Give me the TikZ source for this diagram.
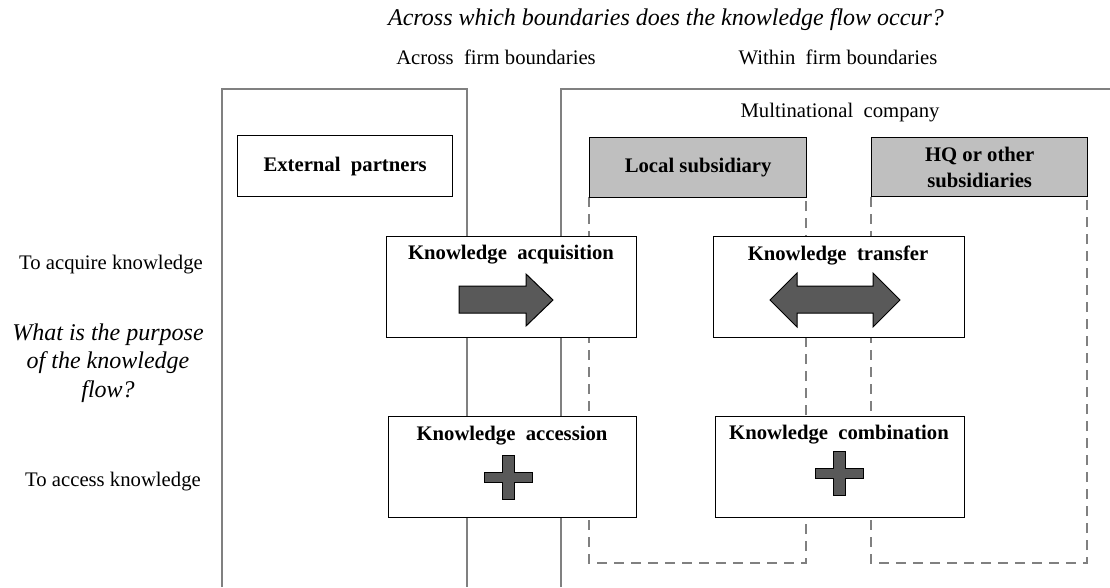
\documentclass[tikz,border=0pt]{standalone}
\usepackage{fontspec}
\setmainfont{Liberation Serif}
\definecolor{linegray}{RGB}{128,128,128}
\definecolor{boxgray}{RGB}{191,191,191}
\definecolor{arrowgray}{RGB}{89,89,89}
\begin{document}
\begin{tikzpicture}[x=1pt,y=-1pt,
  outer/.style={draw=linegray, line width=2.2pt},
  dashbox/.style={draw=linegray, line width=2pt, dash pattern=on 10pt off 7pt},
  kbox/.style={draw=black, fill=white, line width=1.3pt, inner sep=0pt},
  subbox/.style={draw=black, fill=boxgray, line width=1.3pt, inner sep=0pt},
  shapefill/.style={draw=black, fill=arrowgray, line width=1pt, line join=miter},
  lbl/.style={font=\fontsize{20.7}{24}\selectfont, inner sep=0pt},
  blbl/.style={font=\bfseries\fontsize{20.7}{26}\selectfont, inner sep=0pt, align=center},
  ilbl/.style={font=\itshape\fontsize{24}{28.5}\selectfont, inner sep=0pt, align=center},
  plussign/.pic={\draw[shapefill] (-24,-5) -- (-6,-5) -- (-6,-22) -- (6,-22) -- (6,-5) -- (24,-5) -- (24,5) -- (6,5) -- (6,22) -- (-6,22) -- (-6,5) -- (-24,5) -- cycle;},
]
\useasboundingbox (0,0) rectangle (1110,587);
\fill[white] (0,0) rectangle (1110,587);

% titles
\node[ilbl] (title) at (666,20) {Across which boundaries does the knowledge flow occur?};
\node[lbl] (across) at (496,57) {Across\ \ firm boundaries};
\node[lbl] (within) at (838,57) {Within\ \ firm boundaries};

% outer regions
\draw[outer] (222,587) -- (222,89) -- (467,89) -- (467,587);
\draw[outer] (561,587) -- (561,89) -- (1112,89);
\node[lbl] (mnc) at (840,113) {Multinational\ \ company};

% dashed subsidiary columns
\draw[dashbox] (589,197) -- (589,563) -- (806,563) -- (806,197);
\draw[dashbox] (871,197) -- (871,563) -- (1087,563) -- (1087,197);

% top boxes
\node[kbox, anchor=north west, minimum width=215pt, minimum height=61pt] (ext) at (237,135) {};
\node[blbl] (extt) at (ext.center) {External\ \ partners};
\node[subbox, anchor=north west, minimum width=217pt, minimum height=60pt] (local) at (589,137) {};
\node[blbl] (localt) at (local.center) {Local subsidiary};
\node[subbox, anchor=north west, minimum width=216pt, minimum height=59pt] (hq) at (871,137) {};
\node[blbl] (hqt) at (hq.center) {HQ or other\\subsidiaries};

% knowledge boxes
\node[kbox, anchor=north west, minimum width=250pt, minimum height=101pt] (acq) at (386,236) {};
\node[blbl] (acqt) at (511,255) {Knowledge\ \ acquisition};
\node[kbox, anchor=north west, minimum width=251pt, minimum height=101pt] (tra) at (713,236) {};
\node[blbl] (trat) at (838,255) {Knowledge\ \ transfer};
\node[kbox, anchor=north west, minimum width=248pt, minimum height=101pt] (acc) at (388,416) {};
\node[blbl] (acct) at (512,436) {Knowledge\ \ accession};
\node[kbox, anchor=north west, minimum width=249pt, minimum height=101pt] (com) at (715,416) {};
\node[blbl] (comt) at (839,435) {Knowledge\ \ combination};

% symbols
\draw[shapefill] (459,286) -- (526,286) -- (526,274) -- (553,300) -- (526,326) -- (526,313) -- (459,313) -- cycle;
\draw[shapefill] (770,300) -- (797,273) -- (797,286) -- (873,286) -- (873,273) -- (900,300) -- (873,327) -- (873,313) -- (797,313) -- (797,327) -- cycle;
\pic (plusA) at (508,477) {plussign};
\pic (plusB) at (839,473) {plussign};

% row labels
\node[lbl] (acqlbl) at (111,265) {To acquire knowledge};
\node[ilbl] (purpose) at (108,363) {What is the purpose\\of the knowledge\\flow?};
\node[lbl] (acclbl) at (113,482) {To access knowledge};
\end{tikzpicture}
\end{document}
